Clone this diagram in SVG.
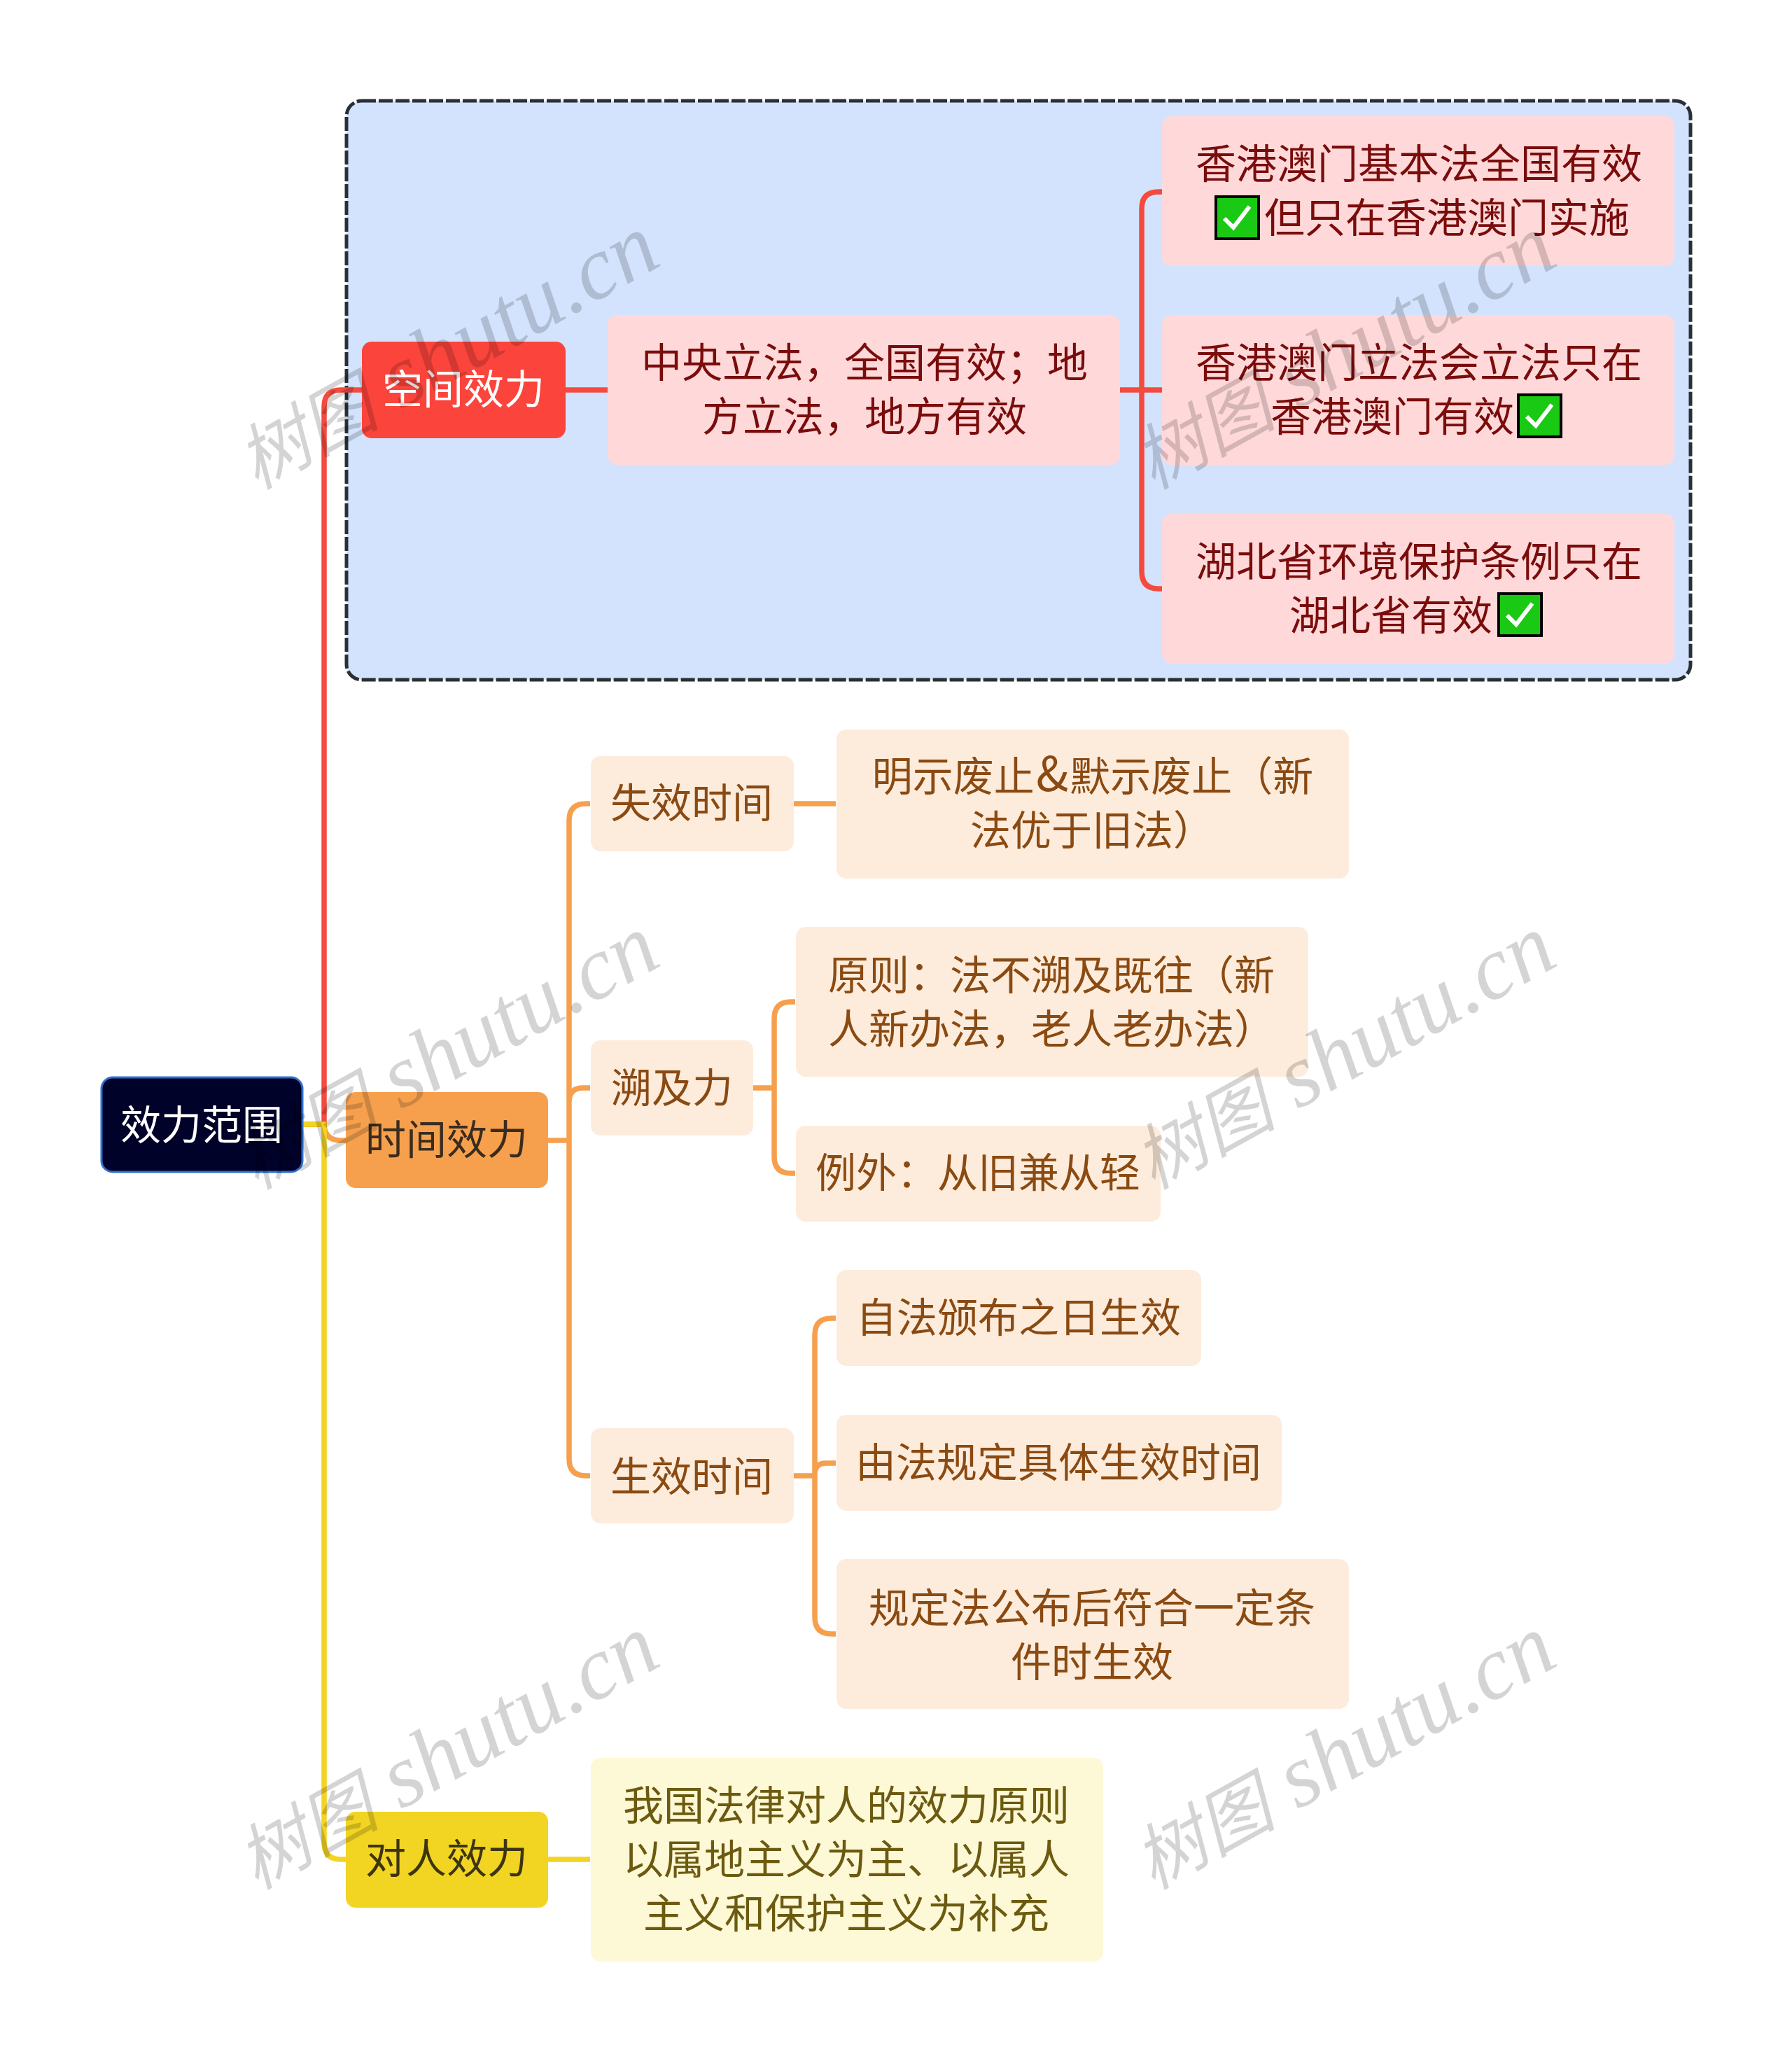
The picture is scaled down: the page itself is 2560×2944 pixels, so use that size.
<svg xmlns="http://www.w3.org/2000/svg" width="2560" height="2944" viewBox="0 0 2560 2944">
<defs>
<style>
text{font-family:"Noto Sans CJK SC","Noto Sans",sans-serif;font-size:58px}
.m{text-anchor:middle}
.r{fill:#7a0c0c}.o{fill:#8a4a12}.y{fill:#6b5a10}
.pr{fill:#ffd9d9}.po{fill:#fdecdc}.py{fill:#fdf8d5}
.c{fill:none;stroke-width:7.5}
.cr{stroke:#f44a3f}.co{stroke:#f6a04d}.cy{stroke:#f2d422}
.wm{font-family:"Liberation Serif","Noto Sans CJK SC",serif;font-style:italic;font-size:128px;fill:#000;fill-opacity:.17}
.wc{font-size:102px}
</style>
<g id="chk"><rect x="2" y="2" width="61" height="60" fill="#1ac914" stroke="#000" stroke-width="4"/><path d="M14 33L27 46L50 16" fill="none" stroke="#fff" stroke-width="6"/></g>
<text id="wmark" class="wm"><tspan class="wc">树图</tspan> shutu.cn</text>
</defs>
<rect width="2560" height="2944" fill="#fff"/>
<rect id="boundary" x="495" y="144" width="1920" height="827" rx="22" fill="#d3e3fd" stroke="#2a2f36" stroke-width="5" stroke-dasharray="20 4"/>
<g id="connectors">
<path class="c cr" d="M432 1606H463V581Q463 557 487 557H517"/>
<path class="c cr" d="M808 557H869"/>
<path class="c cr" d="M1600 557H1660M1631 557V298Q1631 274 1655 274H1660M1631 557V816Q1631 841 1655 841H1660"/>
<path class="c co" d="M463 1605Q463 1629 487 1629H494"/>
<path class="c co" d="M783 1629H813M813 1629V1172Q813 1148 837 1148H843M813 1629V1574Q813 1554 833 1554H843M813 1629V2084Q813 2108 837 2108H843"/>
<path class="c co" d="M1134 1148H1194"/>
<path class="c co" d="M1076 1554H1106M1106 1554V1455Q1106 1431 1130 1431H1136M1106 1554V1652Q1106 1676 1130 1676H1136"/>
<path class="c co" d="M1134 2108H1164M1164 2108V1907Q1164 1883 1188 1883H1194M1164 2108V2106Q1164 2090 1180 2090H1194M1164 2108V2310Q1164 2334 1188 2334H1194"/>
<path class="c cy" d="M432 1606H463V2632Q463 2656 487 2656H494"/>
<path class="c cy" d="M783 2656H843"/>
</g>
<g id="n-root"><rect x="145" y="1539" width="287" height="135" rx="16" fill="#000229" stroke="#2f6fd0" stroke-width="3"/><text class="m" x="288" y="1628" fill="#fff">效力范围</text></g>
<g id="n-space"><rect x="517" y="488" width="291" height="138" rx="14" fill="#fb443b"/><text class="m" x="662" y="577" fill="#fff">空间效力</text></g>
<g id="n-central"><rect class="pr" x="868" y="450" width="732" height="214" rx="14"/><text class="m r" x="1235" y="539">中央立法，全国有效；地</text><text class="m r" x="1235" y="616">方立法，地方有效</text></g>
<g id="n-hk1"><rect class="pr" x="1660" y="166" width="732" height="214" rx="14"/><text class="m r" x="2027" y="255">香港澳门基本法全国有效</text><use href="#chk" x="1735" y="279"/><text class="r" x="1806" y="332">但只在香港澳门实施</text></g>
<g id="n-hk2"><rect class="pr" x="1660" y="450" width="732" height="214" rx="14"/><text class="m r" x="2027" y="539">香港澳门立法会立法只在</text><text class="r" x="1815" y="616">香港澳门有效</text><use href="#chk" x="2167" y="562"/></g>
<g id="n-hb"><rect class="pr" x="1660" y="734" width="732" height="214" rx="14"/><text class="m r" x="2027" y="823">湖北省环境保护条例只在</text><text class="r" x="1842" y="900">湖北省有效</text><use href="#chk" x="2139" y="846"/></g>
<g id="n-time"><rect x="494" y="1560" width="289" height="137" rx="14" fill="#f6a04d"/><text class="m" x="638" y="1649" fill="#3a2c1e">时间效力</text></g>
<g id="n-lose"><rect class="po" x="844" y="1080" width="290" height="136" rx="14"/><text class="m o" x="988" y="1168">失效时间</text></g>
<g id="n-repeal"><rect class="po" x="1195" y="1042" width="732" height="213" rx="14"/><text class="m o" x="1561" y="1130">明示废止<tspan font-size="68" dx="2">&amp;</tspan><tspan dx="2">默示废止（新</tspan></text><text class="m o" x="1560" y="1207">法优于旧法）</text></g>
<g id="n-retro"><rect class="po" x="844" y="1486" width="232" height="136" rx="14"/><text class="m o" x="960" y="1575">溯及力</text></g>
<g id="n-rule"><rect class="po" x="1137" y="1324" width="732" height="214" rx="14"/><text class="m o" x="1502" y="1414">原则：法不溯及既往（新</text><text class="m o" x="1502" y="1491">人新办法，老人老办法）</text></g>
<g id="n-except"><rect class="po" x="1137" y="1608" width="521" height="137" rx="14"/><text class="m o" x="1397" y="1696">例外：从旧兼从轻</text></g>
<g id="n-effect"><rect class="po" x="844" y="2040" width="290" height="136" rx="14"/><text class="m o" x="988" y="2130">生效时间</text></g>
<g id="n-pub"><rect class="po" x="1195" y="1814" width="521" height="137" rx="14"/><text class="m o" x="1455" y="1903">自法颁布之日生效</text></g>
<g id="n-law"><rect class="po" x="1195" y="2021" width="636" height="137" rx="14"/><text class="m o" x="1512" y="2110">由法规定具体生效时间</text></g>
<g id="n-cond"><rect class="po" x="1195" y="2227" width="732" height="214" rx="14"/><text class="m o" x="1560" y="2318">规定法公布后符合一定条</text><text class="m o" x="1560" y="2395">件时生效</text></g>
<g id="n-person"><rect x="494" y="2588" width="289" height="137" rx="14" fill="#f2d422"/><text class="m" x="638" y="2676" fill="#3d3510">对人效力</text></g>
<g id="n-principle"><rect class="py" x="844" y="2511" width="732" height="291" rx="14"/><text class="m y" x="1209" y="2600">我国法律对人的效力原则</text><text class="m y" x="1209" y="2677">以属地主义为主、以属人</text><text class="m y" x="1209" y="2754">主义和保护主义为补充</text></g>
<g id="watermarks">
<use href="#wmark" transform="translate(366 700) rotate(-29)"/>
<use href="#wmark" transform="translate(1647 700) rotate(-29)"/>
<use href="#wmark" transform="translate(366 1700) rotate(-29)"/>
<use href="#wmark" transform="translate(1647 1700) rotate(-29)"/>
<use href="#wmark" transform="translate(366 2700) rotate(-29)"/>
<use href="#wmark" transform="translate(1647 2700) rotate(-29)"/>
</g>
</svg>
